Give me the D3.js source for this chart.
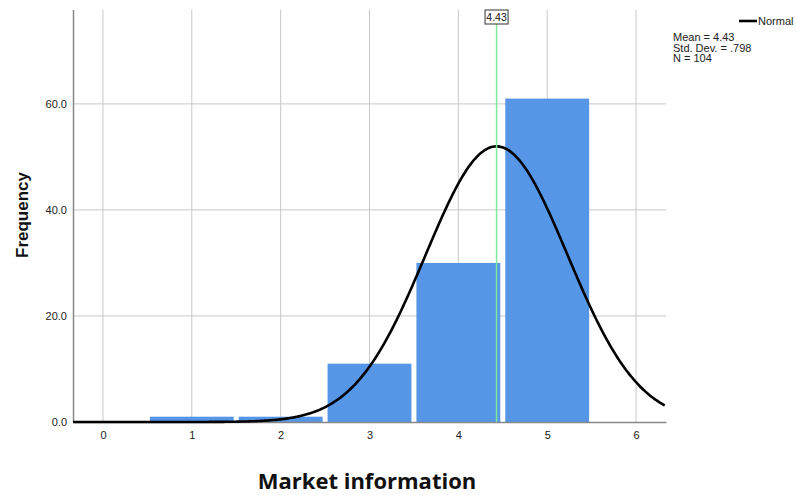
<!DOCTYPE html>
<html>
<head>
<meta charset="utf-8">
<script src="https://cdn.jsdelivr.net/npm/d3@7"></script>
<style>
  body { margin: 0; background: #fff; }
  svg text { font-family: "Liberation Sans", Arial, sans-serif; }
</style>
</head>
<body>
<svg id="canvas"></svg>
<script>
// histogram data
let scores = [1, 2, 3, 4, 5];
let counts = [1, 1, 11, 30, 61];
let xTicks = [0, 1, 2, 3, 4, 5, 6];
let yTicks = [0, 20, 40, 60];
let mean = 4.43;
let stdDev = 0.798;
let n = 104;

let width = 796;
let height = 495;

let canvas = d3.select('#canvas');
canvas.attr('width', width);
canvas.attr('height', height);

let plotLeft = 73, plotRight = 666, plotTop = 9.5, plotBottom = 422;

let xScale = d3.scaleLinear()
    .domain([-0.337, 6.337])
    .range([plotLeft, plotRight]);
let yScale = d3.scaleLinear()
    .domain([0, 77.8])
    .range([plotBottom, plotTop]);

// grid
canvas.append('g')
    .selectAll('line')
    .data(yTicks.slice(1))
    .enter()
    .append('line')
    .attr('x1', plotLeft).attr('x2', plotRight)
    .attr('y1', d => yScale(d)).attr('y2', d => yScale(d))
    .attr('stroke', '#c8c8c8').attr('stroke-width', 1);

canvas.append('g')
    .selectAll('line')
    .data(xTicks)
    .enter()
    .append('line')
    .attr('x1', d => xScale(d)).attr('x2', d => xScale(d))
    .attr('y1', plotTop).attr('y2', plotBottom)
    .attr('stroke', '#c8c8c8').attr('stroke-width', 1);

// bars
canvas.append('g')
    .selectAll('rect')
    .data(scores)
    .enter()
    .append('rect')
    .attr('x', d => xScale(d - 0.5) + 2.5)
    .attr('width', d => xScale(d + 0.5) - xScale(d - 0.5) - 5)
    .attr('y', (d, i) => yScale(counts[i]))
    .attr('height', (d, i) => plotBottom - yScale(counts[i]))
    .attr('fill', '#5596e6');

// axes
let xAxis = d3.axisBottom(xScale).tickValues(xTicks).tickSize(0).tickPadding(9)
    .tickFormat(d3.format('d'));
let yAxis = d3.axisLeft(yScale).tickValues(yTicks).tickSize(0).tickPadding(6)
    .tickFormat(d3.format('.1f'));

let gx = canvas.append('g')
    .attr('transform', `translate(0, ${plotBottom})`)
    .call(xAxis);
gx.select('.domain').attr('stroke', '#888').attr('stroke-width', 1.5);
gx.selectAll('text').attr('font-size', 11).attr('fill', '#222')
    .style('font-family', '"Liberation Sans", Arial, sans-serif');

let gy = canvas.append('g')
    .attr('transform', `translate(${plotLeft}, 0)`)
    .call(yAxis);
gy.select('.domain').attr('stroke', '#888').attr('stroke-width', 1.5);
gy.selectAll('text').attr('font-size', 11).attr('fill', '#222')
    .style('font-family', '"Liberation Sans", Arial, sans-serif');

// normal curve
let pdf = x => n * Math.exp(-0.5 * Math.pow((x - mean) / stdDev, 2)) / (stdDev * Math.sqrt(2 * Math.PI));
let curveX = d3.range(-0.337, 6.34, 0.02);
let line = d3.line()
    .x(d => xScale(d))
    .y(d => yScale(pdf(d)))
    .curve(d3.curveBasis);

canvas.append('clipPath').attr('id', 'clip')
    .append('rect').attr('x', plotLeft).attr('y', plotTop)
    .attr('width', plotRight - plotLeft).attr('height', plotBottom - plotTop + 2);

canvas.append('path')
    .datum(curveX)
    .attr('d', line)
    .attr('fill', 'none')
    .attr('stroke', '#000')
    .attr('stroke-width', 2.6)
    .attr('clip-path', 'url(#clip)');

// mean marker
canvas.append('line')
    .attr('x1', xScale(mean)).attr('x2', xScale(mean))
    .attr('y1', plotTop + 14).attr('y2', plotBottom)
    .attr('stroke', '#7ee89b').attr('stroke-width', 1.5);

canvas.append('rect')
    .attr('x', xScale(mean) - 11.5).attr('y', plotTop + 0.5)
    .attr('width', 23).attr('height', 14)
    .attr('fill', '#fff').attr('stroke', '#333').attr('stroke-width', 1);
canvas.append('text')
    .attr('x', xScale(mean)).attr('y', plotTop + 11.5)
    .attr('text-anchor', 'middle')
    .attr('font-size', 10.5).attr('fill', '#111')
    .text(mean.toFixed(2));

// legend
canvas.append('line')
    .attr('x1', 739).attr('x2', 757).attr('y1', 21).attr('y2', 21)
    .attr('stroke', '#000').attr('stroke-width', 2.6);
canvas.append('text')
    .attr('x', 758).attr('y', 25)
    .attr('font-size', 11).attr('fill', '#222')
    .text('Normal');

let stats = ['Mean = ' + mean, 'Std. Dev. = ' + String(stdDev).replace(/^0/, ''), 'N = ' + n];
canvas.append('g')
    .selectAll('text')
    .data(stats)
    .enter()
    .append('text')
    .attr('x', 673)
    .attr('y', (d, i) => 41 + i * 10.5)
    .attr('font-size', 11).attr('fill', '#222')
    .text(d => d);

// axis titles
canvas.append('text')
    .attr('transform', 'translate(28, 215) rotate(-90)')
    .attr('text-anchor', 'middle')
    .attr('font-size', 17).attr('font-weight', 'bold').attr('fill', '#111')
    .text('Frequency');

canvas.append('text')
    .attr('x', 367).attr('y', 489)
    .attr('text-anchor', 'middle')
    .attr('font-size', 22).attr('font-weight', 'bold').attr('fill', '#111')
    .style('font-family', '"Open Sans", "Noto Sans", sans-serif')
    .text('Market information');
</script>
</body>
</html>
